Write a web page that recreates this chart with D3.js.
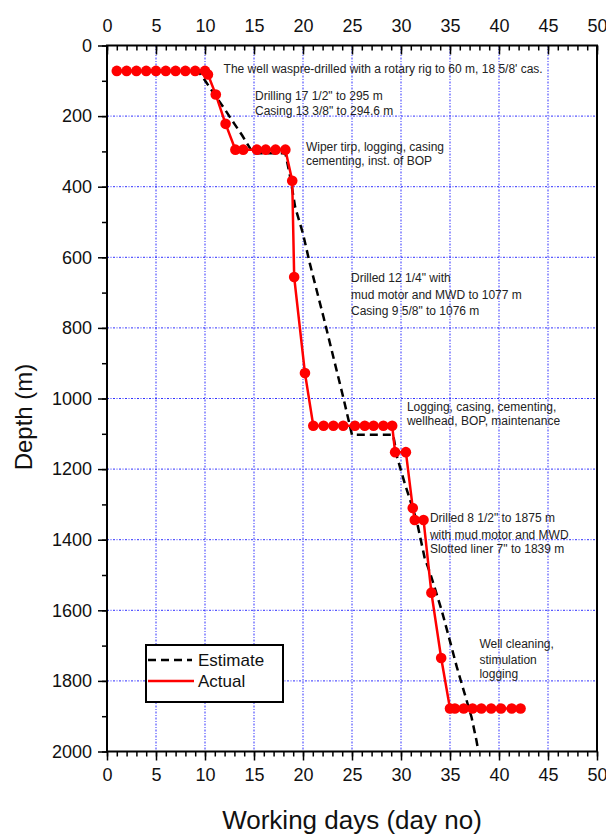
<!DOCTYPE html>
<html>
<head>
<meta charset="utf-8">
<script src="https://cdn.jsdelivr.net/npm/d3@7"></script>
<style>
  html, body { margin: 0; padding: 0; background: #fff; }
  svg { display: block; font-family: "Liberation Sans", Arial, sans-serif; }
</style>
</head>
<body>
<svg id="chart" width="606" height="838"></svg>
<script>
// ---- Data ----
const actualDays  = [1,2,3,4,5,6,7,8,9,10,10.3,11.1,12.1,13.1,13.9,15.3,16.2,17.2,18.2,18.9,19.1,20.2,21.05,22.1,23.1,24.1,25.3,26.3,27.2,28.2,29.1,29.4,30.5,31.2,31.4,32.3,33.1,34.1,35,35.5,36.4,37.3,38.2,39.2,40.2,41.3,42.2];
const actualDepth = [72,72,72,72,72,72,72,72,72,72,82,139,222,295,295,295,295,295,295,383,656,928,1077,1077,1077,1077,1077,1077,1077,1077,1077,1152,1152,1310,1344,1344,1550,1735,1878,1878,1878,1878,1878,1878,1878,1878,1878];

const estimateDays  = [1,9.3,10,11,12,13,13.8,14.9,18.2,18.7,19.2,20.0,20.7,22.1,23.1,24.1,25.0,29.2,29.6,30.4,31.6,32.4,33.0,34.15,34.8,35.7,36.5,37.2,37.7,37.9];
const estimateDepth = [72,72,99,140,180,222,255,305,305,373,458,533,618,770,883,996,1103,1103,1166,1242,1346,1450,1497,1600,1667,1761,1837,1903,1969,2000];

const xTicks = [0,5,10,15,20,25,30,35,40,45,50];
const yTicks = [0,200,400,600,800,1000,1200,1400,1600,1800,2000];

const notes = [
  { day: 11.9, lines: ["The well waspre-drilled with a rotary rig to 60 m, 18 5/8' cas."], dy: [72.5] },
  { day: 15.1, lines: ["Drilling 17 1/2\" to 295 m", "Casing 13 3/8\" to 294.6 m"], dy: [99.5, 115] },
  { day: 20.3, lines: ["Wiper tirp, logging, casing", "cementing, inst. of BOP"], dy: [150.5, 164.5] },
  { day: 24.9, lines: ["Drilled 12 1/4\" with", "mud motor and MWD to 1077 m", "Casing 9 5/8\" to 1076 m"], dy: [282, 298.5, 314.5] },
  { day: 30.6, lines: ["Logging, casing, cementing,", "wellhead, BOP, maintenance"], dy: [410.5, 424.5] },
  { day: 32.95, lines: ["Drilled 8 1/2\" to 1875 m", "with mud motor and MWD", "Slotted liner 7\" to 1839 m"], dy: [522, 539, 552.5] },
  { day: 38.0, lines: ["Well cleaning,", "stimulation", "logging"], dy: [647.5, 664, 677.5] }
];

// ---- Layout ----
const svg = d3.select("#chart");
const x = d3.scaleLinear().domain([0, 50]).range([107, 597]);
const y = d3.scaleLinear().domain([0, 2000]).range([45.5, 751.5]);

// Grid
const grid = svg.append("g").attr("stroke", "#3030ff").attr("stroke-width", 1)
  .attr("stroke-dasharray", "2,1.5,1,1.5");
xTicks.filter(t => t > 0 && t < 50).forEach(t => {
  grid.append("line").attr("x1", x(t)).attr("x2", x(t)).attr("y1", y(0)).attr("y2", y(2000));
});
yTicks.filter(t => t > 0 && t < 2000).forEach(t => {
  grid.append("line").attr("x1", x(0)).attr("x2", x(50)).attr("y1", y(t)).attr("y2", y(t));
});

// Axes
function styleAxis(g) {
  g.select(".domain").remove();
  g.selectAll(".tick line").attr("stroke", "#000").attr("stroke-width", 1.5);
  g.selectAll(".tick text").attr("font-size", 18).attr("fill", "#111")
    .attr("font-family", "'Liberation Sans', Arial, sans-serif");
}
const minorX = d3.range(0, 51, 1);
const minorY = d3.range(0, 2001, 100);

// top
svg.append("g").attr("transform", `translate(0,${y(0)})`)
  .call(d3.axisTop(x).tickValues(minorX).tickSize(-5).tickFormat(""))
  .call(styleAxis);
svg.append("g").attr("transform", `translate(0,${y(0)})`)
  .call(d3.axisTop(x).tickValues(xTicks).tickSize(-9).tickPadding(14).tickFormat(d3.format("d")))
  .call(styleAxis);
// bottom
svg.append("g").attr("transform", `translate(0,${y(2000)})`)
  .call(d3.axisBottom(x).tickValues(minorX).tickSize(5).tickFormat(""))
  .call(styleAxis);
svg.append("g").attr("transform", `translate(0,${y(2000)})`)
  .call(d3.axisBottom(x).tickValues(xTicks).tickSize(9).tickPadding(8).tickFormat(d3.format("d")))
  .call(styleAxis);
// left
svg.append("g").attr("transform", `translate(${x(0)},0)`)
  .call(d3.axisLeft(y).tickValues(minorY).tickSize(5).tickFormat(""))
  .call(styleAxis);
svg.append("g").attr("transform", `translate(${x(0)},0)`)
  .call(d3.axisLeft(y).tickValues(yTicks).tickSize(9).tickPadding(6).tickFormat(d3.format("d")))
  .call(styleAxis);

// Lines
const est = estimateDays.map((d, i) => [d, estimateDepth[i]]);
const act = actualDays.map((d, i) => [d, actualDepth[i]]);
const line = d3.line().x(d => x(d[0])).y(d => y(d[1]));

svg.append("path").datum(est).attr("d", line)
  .attr("fill", "none").attr("stroke", "#000").attr("stroke-width", 2.5)
  .attr("stroke-dasharray", "8,5");

svg.append("path").datum(act).attr("d", line)
  .attr("fill", "none").attr("stroke", "#ff0000").attr("stroke-width", 2.5);

svg.append("g").selectAll("circle").data(act).join("circle")
  .attr("cx", d => x(d[0])).attr("cy", d => y(d[1])).attr("r", 5.3)
  .attr("fill", "#ff0000");

// Frame
svg.append("rect").attr("x", x(0)).attr("y", y(0))
  .attr("width", x(50) - x(0)).attr("height", y(2000) - y(0))
  .attr("fill", "none").attr("stroke", "#000").attr("stroke-width", 2);

// Annotations
notes.forEach(n => {
  const t = svg.append("text").attr("font-size", 12).attr("fill", "#222");
  n.lines.forEach((s, i) => {
    t.append("tspan").attr("x", x(n.day)).attr("y", n.dy[i]).text(s);
  });
});

// Legend
const lg = svg.append("g");
lg.append("rect").attr("x", 146).attr("y", 645).attr("width", 137).attr("height", 57)
  .attr("fill", "#fff").attr("stroke", "#000").attr("stroke-width", 2);
lg.append("line").attr("x1", 148).attr("x2", 192).attr("y1", 660).attr("y2", 660)
  .attr("stroke", "#000").attr("stroke-width", 2.5).attr("stroke-dasharray", "8,5");
lg.append("line").attr("x1", 148).attr("x2", 194).attr("y1", 681).attr("y2", 681)
  .attr("stroke", "#ff0000").attr("stroke-width", 2.5);
lg.append("text").attr("x", 198).attr("y", 666).attr("font-size", 17).attr("fill", "#111").text("Estimate");
lg.append("text").attr("x", 198).attr("y", 687).attr("font-size", 17).attr("fill", "#111").text("Actual");

// Axis titles
svg.append("text").attr("x", (x(0) + x(50)) / 2).attr("y", 829)
  .attr("text-anchor", "middle").attr("font-size", 26).attr("fill", "#111")
  .text("Working days (day no)");
svg.append("text").attr("transform", "translate(32,417) rotate(-90)")
  .attr("text-anchor", "middle").attr("font-size", 24).attr("fill", "#111")
  .text("Depth (m)");
</script>
</body>
</html>
